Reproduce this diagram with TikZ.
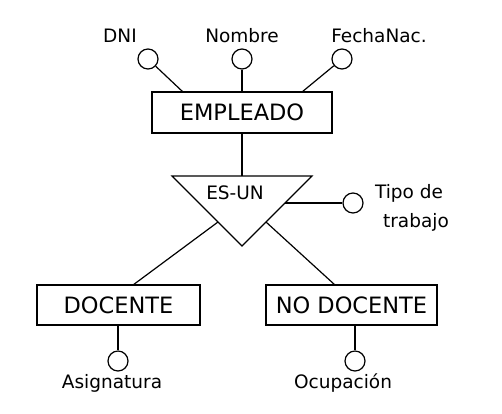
\documentclass[tikz,border=0pt]{standalone}
\usepackage{fontspec}
\setmainfont{DejaVu Sans}
\begin{document}
\begin{tikzpicture}[x=1pt,y=-1pt,line width=1.2pt,
  entity/.style={draw,rectangle,inner sep=0pt,minimum height=40pt,font=\fontsize{22.5}{26}\selectfont},
  attr/.style={draw,circle,inner sep=0pt,minimum size=20pt},
  lbl/.style={inner sep=0pt,font=\fontsize{18.5}{22}\selectfont}]
\useasboundingbox (0,0) rectangle (502,413);
% entities
\node[entity,minimum width=180pt,minimum height=41pt] (emp) at (242,112.5) {EMPLEADO};
\node[entity,minimum width=163pt] (doc) at (118.5,305) {DOCENTE};
\node[entity,minimum width=171pt] (nodoc) at (351.5,305) {NO DOCENTE};
% attributes
\node[attr] (dni) at (148,59) {};
\node[attr] (nom) at (242,59) {};
\node[attr] (fec) at (342,59) {};
\node[attr] (tipo) at (353,203) {};
\node[attr] (asig) at (118,361) {};
\node[attr] (ocup) at (355,361) {};
% labels
\node[lbl] (ldni) at (120,36) {DNI};
\node[lbl] (lnom) at (242,36) {Nombre};
\node[lbl] (lfec) at (379,36) {FechaNac.};
\node[lbl,align=center,font=\fontsize{18.5}{29}\selectfont] (ltipo) at (409,208) {Tipo de\\\hspace*{14pt}trabajo};
\node[lbl] (lasig) at (112,383) {Asignatura};
\node[lbl] (locup) at (343,383) {Ocupación};
% ISA triangle
\coordinate (tl) at (172,176);
\coordinate (tr) at (312,176);
\coordinate (tb) at (242,246);
\coordinate (ttop) at (242,176);
\draw[line join=miter] (tl) -- (tr) -- (tb) -- cycle;
\node[lbl] (isa) at (235,193) {ES-UN};
\coordinate (tleft) at (218,222);
\coordinate (tright) at (266,222);
\coordinate (ttipo) at (285,203);
% connectors
\coordinate (e1) at (183,92);
\coordinate (e3) at (302,92);
\coordinate (d1) at (133,285);
\coordinate (n1) at (335,285);
\draw (dni) -- (e1);
\draw (nom) -- (emp.north);
\draw (fec) -- (e3);
\draw (emp.south) -- (ttop);
\draw (ttipo) -- (tipo);
\draw (tleft) -- (d1);
\draw (tright) -- (n1);
\draw (doc.south -| asig) -- (asig);
\draw (nodoc.south -| ocup) -- (ocup);
\end{tikzpicture}
\end{document}
